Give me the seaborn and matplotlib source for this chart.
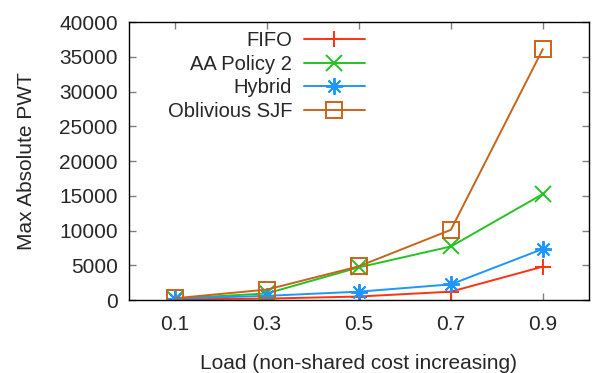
import matplotlib
matplotlib.use('Agg')
import matplotlib.pyplot as plt
import seaborn as sns
import pandas as pd

# data
loads = [0.1, 0.3, 0.5, 0.7, 0.9]
fifo = [100, 200, 500, 1200, 4800]
aa_policy2 = [200, 950, 4700, 7700, 15250]
hybrid = [200, 600, 1200, 2250, 7350]
oblivious_sjf = [250, 1500, 4850, 10100, 36100]

series_names = ['FIFO', 'AA Policy 2', 'Hybrid', 'Oblivious SJF']
series_values = [fifo, aa_policy2, hybrid, oblivious_sjf]
colors = ['#ff3311', '#22c422', '#1e96ff', '#c8641a']
markers = ['+', 'x', (8, 2, 0), 's']

df = pd.DataFrame({
    'load': loads * len(series_names),
    'pwt': sum(series_values, []),
    'policy': [n for n in series_names for _ in loads],
})

sns.set_style('ticks')
plt.rcParams['font.family'] = ['Liberation Sans', 'DejaVu Sans']
plt.rcParams['font.size'] = 15

fig = plt.figure(figsize=(5.93, 3.73), dpi=100)
ax = fig.add_axes([0.2175, 0.1957, 0.7755, 0.7453])

for name, col, mk in zip(series_names, colors, markers):
    sub = df[df['policy'] == name]
    sns.lineplot(data=sub, x='load', y='pwt', ax=ax, color=col, marker=mk,
                 markersize=12, markeredgewidth=1.4, fillstyle='none',
                 markeredgecolor=col, linewidth=1.4, label=name)

ax.set_xlim(0.0, 1.0)
ax.set_ylim(0, 40000)
ax.set_xticks(loads)
ax.set_xticklabels([f'{v:.1f}' for v in loads])
ax.set_yticks(range(0, 40001, 5000))
ax.tick_params(direction='in', top=True, right=True, length=5, width=1,
               color='#808080', labelsize=15)
ax.tick_params(axis='x', pad=11)
ax.tick_params(axis='y', pad=8)
for s in ax.spines.values():
    s.set_color('black')
    s.set_linewidth(1)

ax.set_xlabel('Load (non-shared cost increasing)', fontsize=15, labelpad=14)
ax.set_ylabel('Max Absolute PWT', fontsize=15, labelpad=17)

ax.legend(loc='upper right', bbox_to_anchor=(0.53, 0.995), frameon=False,
          markerfirst=False, handlelength=3.0, handletextpad=0.6,
          labelspacing=0.22, fontsize=14.5, borderaxespad=0)

plt.savefig('out.png', dpi=100)
